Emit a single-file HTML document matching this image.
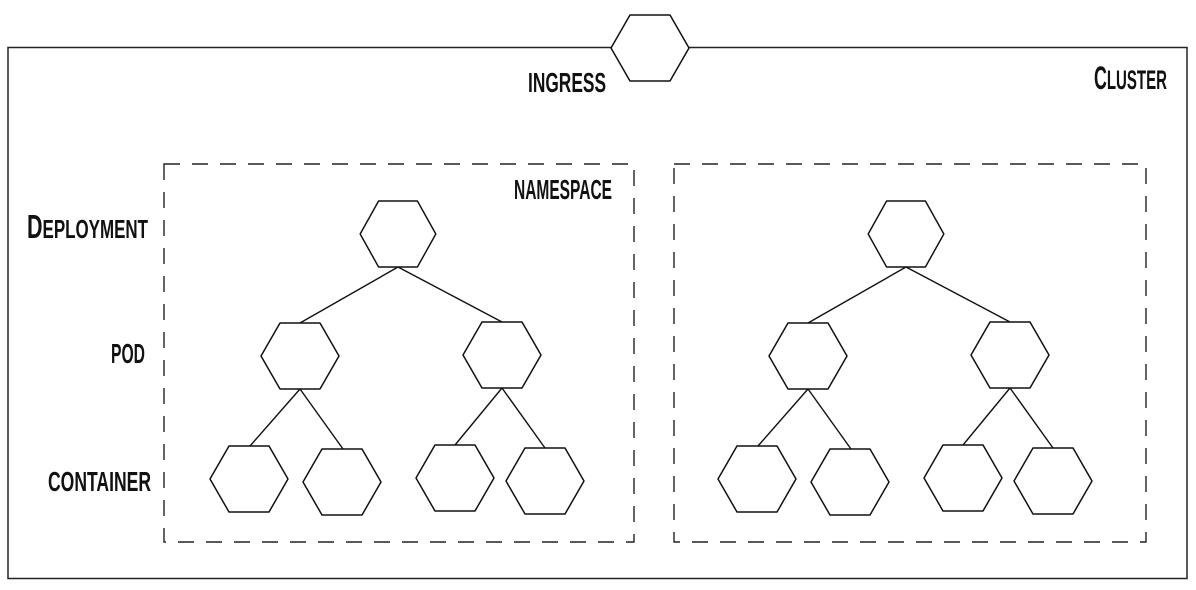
<!DOCTYPE html>
<html><head><meta charset="utf-8"><style>
html,body{margin:0;padding:0;background:#fff;}
svg{display:block;}
text{font-family:"Liberation Sans Narrow","Liberation Sans",sans-serif;font-weight:bold;fill:#111;}
</style></head><body>
<svg width="1196" height="590" viewBox="0 0 1196 590" xmlns="http://www.w3.org/2000/svg">
<defs>
<path id="hx" d="M-39,0 L-20,-33 L20,-33 L39,0 L20,33 L-20,33 Z" fill="#fff" stroke="#111" stroke-width="1.5" stroke-linejoin="round"/>
<g id="tree">
  <g stroke="#111" stroke-width="1.4">
    <line x1="398" y1="267" x2="300" y2="323"/>
    <line x1="398" y1="267" x2="502" y2="322"/>
    <line x1="300" y1="389" x2="250" y2="446"/>
    <line x1="300" y1="389" x2="343" y2="449"/>
    <line x1="502" y1="388" x2="455" y2="445"/>
    <line x1="502" y1="388" x2="545" y2="448"/>
  </g>
  <use href="#hx" transform="translate(398,234) scale(0.97,1)"/>
  <use href="#hx" transform="translate(300,356)"/>
  <use href="#hx" transform="translate(502,355)"/>
  <use href="#hx" transform="translate(249,479)"/>
  <use href="#hx" transform="translate(342,482)"/>
  <use href="#hx" transform="translate(455,478)"/>
  <use href="#hx" transform="translate(545,481)"/>
</g>
</defs>
<rect x="8" y="47.5" width="1179" height="531" fill="none" stroke="#222" stroke-width="1.5"/>
<rect x="164" y="164" width="470" height="378" fill="none" stroke="#222" stroke-width="1.4" stroke-dasharray="16,12"/>
<rect x="674" y="164" width="472" height="378" fill="none" stroke="#222" stroke-width="1.4" stroke-dasharray="16,12"/>
<use href="#hx" transform="translate(650,48)"/>
<use href="#tree"/>
<use href="#tree" transform="translate(508,0)"/>
<text x="528" y="92" font-size="28" textLength="78" lengthAdjust="spacingAndGlyphs">INGRESS</text>
<text x="1094" y="89" font-size="27" textLength="73" lengthAdjust="spacingAndGlyphs"><tspan font-size="32">C</tspan>LUSTER</text>
<text x="514" y="199" font-size="28" textLength="98" lengthAdjust="spacingAndGlyphs">NAMESPACE</text>
<text x="27" y="238" font-size="26" textLength="121" lengthAdjust="spacingAndGlyphs"><tspan font-size="33">D</tspan>EPLOYMENT</text>
<text x="111" y="363" font-size="28" textLength="34" lengthAdjust="spacingAndGlyphs">POD</text>
<text x="48" y="491" font-size="28" textLength="103" lengthAdjust="spacingAndGlyphs">CONTAINER</text>
</svg>
</body></html>
